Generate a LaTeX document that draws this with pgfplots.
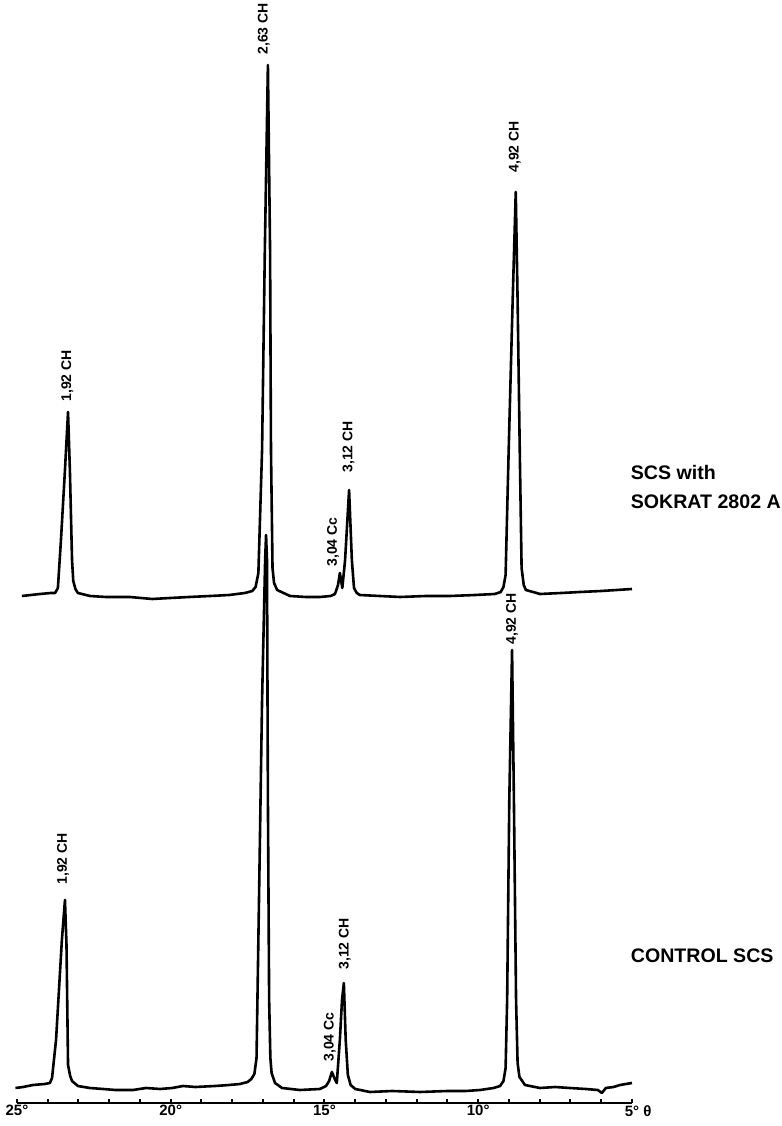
\documentclass[border=0pt]{standalone}
\usepackage{fontspec}
\setmainfont{Liberation Sans}
\usepackage{pgfplots}
\pgfplotsset{compat=1.18}
\begin{document}
\begin{tikzpicture}
\path[use as bounding box] (0,0) rectangle (391pt,563pt);
\begin{axis}[
  at={(8.5pt,11.5pt)}, anchor=south west,
  scale only axis, width=307.5pt, height=551.5pt,
  xmin=5, xmax=25, x dir=reverse,
  ymin=0, ymax=1103,
  axis x line=bottom, axis y line=none,
  x axis line style={-, line width=1pt},
  xtick={5,10,15,20,25},
  xticklabels={5°\rlap{ θ},10°,15°,20°,25°},
  minor x tick num=4,
  tick align=inside,
  major tick length=2.2pt, minor tick length=2.2pt,
  every tick/.style={black, line width=1pt},
  xticklabel style={font=\bfseries\fontsize{7.5}{8}\selectfont, inner sep=1pt},
  clip=false,
]
% CONTROL SCS (lower trace)
\addplot[black, line width=1.3pt, line join=round, mark=none] coordinates {
(25.05,15) (24.80,16) (24.48,18) (24.10,19) (23.93,20) (23.86,25) (23.73,63) (23.54,163) (23.44,203)
(23.39,158) (23.34,38) (23.27,27) (23.21,22) (23.02,17) (22.63,15) (22.20,14) (21.80,13) (21.23,13) (20.80,15) (20.35,14)
(19.95,15) (19.60,17) (19.20,16) (18.56,17) (18.10,18) (17.75,19) (17.50,21) (17.38,24) (17.28,29) (17.21,45) (17.13,203)
(17.03,403) (16.93,543) (16.90,568) (16.87,543) (16.84,303) (16.80,103) (16.76,45) (16.72,30)
(16.61,20) (16.38,15) (15.80,13) (15.15,14) (14.95,17) (14.85,22) (14.76,31) (14.68,25)
(14.60,20) (14.50,63) (14.43,103) (14.37,120) (14.31,63) (14.24,28) (14.15,18) (14.00,14)
(13.52,11) (12.80,12) (11.89,11) (11.00,12) (10.40,12) (9.94,13) (9.50,15) (9.29,17) (9.18,22) (9.11,35) (9.06,103) (8.99,303)
(8.90,453) (8.84,303) (8.77,103) (8.72,40) (8.66,26) (8.48,18) (7.99,15) (7.50,16) (7.02,15)
(6.50,14) (6.11,13) (5.98,10) (5.85,15) (5.60,16) (5.39,18) (5.0,20)
};
% SCS with SOKRAT 2802 A (upper trace)
\addplot[black, line width=1.3pt, line join=round, mark=none] coordinates {
(24.84,507) (24.55,508) (24.25,509) (23.90,510) (23.76,510) (23.67,515) (23.57,563) (23.44,633) (23.34,691)
(23.28,633) (23.21,543) (23.17,522) (23.10,514) (23.02,510) (22.63,507) (22.10,506) (21.33,506) (20.60,504) (20.02,505)
(19.40,506) (18.72,507) (18.10,508) (17.59,510) (17.35,512) (17.24,516) (17.15,530) (17.03,653) (16.94,853) (16.84,1038)
(16.77,853) (16.74,653) (16.69,535) (16.64,520) (16.54,513) (16.12,507) (15.60,506) (15.15,506) (14.80,507) (14.66,509)
(14.56,518) (14.50,530) (14.42,515) (14.33,543) (14.20,613) (14.11,543) (14.04,515) (13.95,510) (13.85,508)
(13.20,507) (12.54,506) (11.70,507) (10.92,507) (10.10,508) (9.46,509) (9.27,511) (9.18,516) (9.11,528) (9.01,653) (8.88,803)
(8.78,911) (8.72,803) (8.65,653) (8.59,535) (8.52,518) (8.45,513) (7.99,509) (7.30,510) (6.69,511)
(6.00,512) (5.50,513) (5.0,514)
};
\tikzset{pk/.style={rotate=90, anchor=west, inner sep=0pt, font=\bfseries\fontsize{7}{8}\selectfont}}
% upper labels
\node[pk] at (axis cs:23.36,701) {1,92 CH};
\node[pk] at (axis cs:16.97,1048) {2,63 CH};
\node[pk] at (axis cs:14.72,536) {3,04 Cc};
\node[pk] at (axis cs:14.22,630) {3,12 CH};
\node[pk] at (axis cs:8.81,930) {4,92 CH};
% lower labels
\node[pk] at (axis cs:23.50,218) {1,92 CH};
\node[pk] at (axis cs:14.83,41) {3,04 Cc};
\node[pk] at (axis cs:14.34,133) {3,12 CH};
\node[pk] at (axis cs:8.90,458) {4,92 CH};
% trace names
\node[anchor=north west, inner sep=0pt, align=left, font=\bfseries\fontsize{9.8}{14.5}\selectfont]
  at (axis cs:5.05,638) {SCS with\\SOKRAT 2802 A};
\node[anchor=north west, inner sep=0pt, font=\bfseries\fontsize{9.8}{12}\selectfont]
  at (axis cs:5.05,155) {CONTROL SCS};
\end{axis}
\end{tikzpicture}
\end{document}
